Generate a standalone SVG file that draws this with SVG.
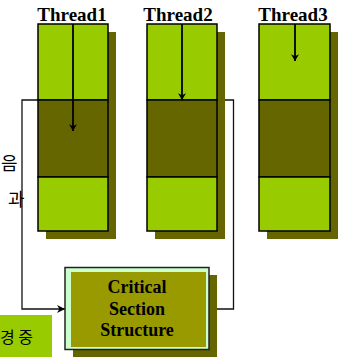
<svg xmlns="http://www.w3.org/2000/svg" width="341" height="357" viewBox="0 0 341 357">
  <style>
    .label { font-family: "Liberation Serif", "DejaVu Serif", serif; font-weight: bold; fill: #000; }
    .thread { font-size: 19px; text-anchor: middle; }
    .box-text { font-size: 18px; text-anchor: middle; }
    .kr { font-family: "Noto Sans CJK KR", "Noto Sans CJK SC", sans-serif; fill: #000; }
    .shadow { fill: #666600; }
    .light { fill: #99cc00; stroke: #000; stroke-width: 1.5; }
    .dark { fill: #666600; stroke: #000; stroke-width: 1.5; }
    .flow { fill: none; stroke: #000; stroke-width: 1.8; }
    .conn { fill: none; stroke: #111; stroke-width: 1.3; }
  </style>
  <defs>
    <marker id="arrow" viewBox="0 0 10 10" refX="10" refY="5" markerWidth="8" markerHeight="8" markerUnits="userSpaceOnUse" orient="auto">
      <path d="M0,0 L10,5 L0,10 L3,5 Z" fill="#000"/>
    </marker>
    <marker id="arrowV" viewBox="0 0 10 12" refX="10" refY="6" markerWidth="12" markerHeight="8" markerUnits="userSpaceOnUse" orient="auto">
      <path d="M0,0 L10,6 L0,12 L3,6 Z" fill="#000"/>
    </marker>
  </defs>

  <rect width="341" height="357" fill="#fff"/>

  <!-- connectors from the critical section back to the structure -->
  <g id="connectors">
    <path class="conn" d="M38,100 H22 V309 H65" marker-end="url(#arrow)"/>
    <path class="conn" d="M217,100 H233.5 V309 H204" marker-end="url(#arrow)"/>
  </g>

  <!-- side notes, partly cut off at the left edge -->
  <g id="notes">
    <text class="kr" x="1" y="170" font-size="18">음</text>
    <text class="kr" x="8" y="206" font-size="18">과</text>
    <rect x="0" y="315" width="52" height="42" fill="#99cc00"/>
    <text class="kr" x="0" y="343" font-size="16">경 중</text>
  </g>

  <g id="thread1">
    <rect class="shadow" x="46" y="32" width="70" height="207"/>
    <rect class="light" x="38" y="24" width="70" height="76"/>
    <rect class="dark" x="38" y="100" width="70" height="77"/>
    <rect class="light" x="38" y="177" width="70" height="54"/>
    <line class="flow" x1="73" y1="24" x2="73" y2="131" marker-end="url(#arrowV)"/>
    <text class="label thread" x="72" y="21">Thread1</text>
  </g>

  <g id="thread2">
    <rect class="shadow" x="155" y="32" width="70" height="207"/>
    <rect class="light" x="147" y="24" width="70" height="76"/>
    <rect class="dark" x="147" y="100" width="70" height="77"/>
    <rect class="light" x="147" y="177" width="70" height="54"/>
    <line class="flow" x1="182" y1="24" x2="182" y2="100" marker-end="url(#arrowV)"/>
    <text class="label thread" x="178" y="21">Thread2</text>
  </g>

  <g id="thread3">
    <rect class="shadow" x="267" y="32" width="71" height="207"/>
    <rect class="light" x="259" y="24" width="71" height="76"/>
    <rect class="dark" x="259" y="100" width="71" height="77"/>
    <rect class="light" x="259" y="177" width="71" height="54"/>
    <line class="flow" x1="295" y1="24" x2="295" y2="61" marker-end="url(#arrowV)"/>
    <text class="label thread" x="293" y="21">Thread3</text>
  </g>

  <g id="critical-section">
    <rect class="shadow" x="73" y="275" width="144" height="82"/>
    <rect x="65" y="267.5" width="144" height="82" fill="#ccffcc" stroke="#222" stroke-width="1.5"/>
    <rect x="71" y="272" width="135" height="75" fill="#999900"/>
    <text class="label box-text" x="137" y="293">Critical</text>
    <text class="label box-text" x="137" y="315">Section</text>
    <text class="label box-text" x="137" y="336">Structure</text>
  </g>
</svg>
